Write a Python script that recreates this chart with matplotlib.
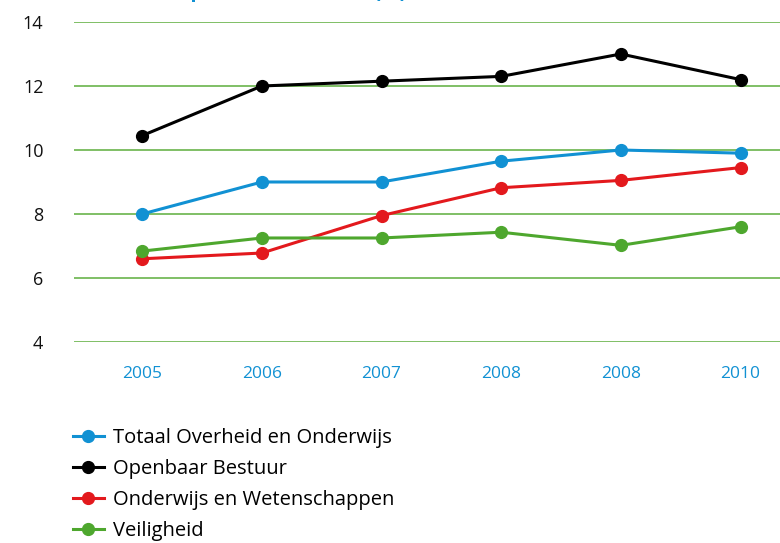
import numpy as np
import matplotlib
matplotlib.use("Agg")
import matplotlib.pyplot as plt

plt.rcParams['font.family'] = ['Open Sans', 'DejaVu Sans']

years = ['2005', '2006', '2007', '2008', '2008', '2010']
totaal = [8.0, 9.0, 9.0, 9.65, 10.0, 9.9]
openbaar = [10.45, 12.0, 12.15, 12.3, 13.0, 12.2]
onderwijs = [6.6, 6.78, 7.95, 8.82, 9.05, 9.45]
veiligheid = [6.84, 7.25, 7.25, 7.43, 7.02, 7.6]

series = [
    ('Totaal Overheid en Onderwijs', totaal, '#1191d3'),
    ('Openbaar Bestuur', openbaar, '#000000'),
    ('Onderwijs en Wetenschappen', onderwijs, '#e3191d'),
    ('Veiligheid', veiligheid, '#4ea72e'),
]

fig = plt.figure(figsize=(7.8, 5.43), dpi=100)
ax = fig.add_axes([0.0949, 0.3702, 0.9051, 0.5893])

x = np.arange(len(years))
for label, vals, col in series:
    ax.plot(x, vals, color=col, lw=2.2, marker='o', ms=8.5, label=label,
            clip_on=False, zorder=3)

ax.set_ylim(4, 14)
ax.set_xlim(-0.57, 5.33)
ax.set_yticks([4, 6, 8, 10, 12, 14])
ax.set_xticks(x)
ax.set_xticklabels(years)
ax.grid(axis='y', color='#5cae3c', lw=1.1)
ax.set_axisbelow(True)
for s in ax.spines.values():
    s.set_visible(False)
ax.tick_params(axis='both', length=0)
ax.tick_params(axis='y', labelsize=13, pad=22, labelcolor='#111111')
ax.tick_params(axis='x', labelsize=12.5, pad=17, labelcolor='#1191d3')

# title, mostly cut off by the top edge as in the original
fig.text(-0.01, 1.005, 'Verzuim Overheid, procent overheid (%)', color='#1191d3',
         fontsize=15, fontweight='bold', va='baseline', ha='left')

ax.legend(loc='upper left', bbox_to_anchor=(0.094, 0.212), bbox_transform=fig.transFigure,
          frameon=False, fontsize=14.5, handlelength=1.5, handletextpad=0.45,
          labelspacing=0.55, borderpad=0, borderaxespad=0)

fig.savefig('out.png', dpi=100)
